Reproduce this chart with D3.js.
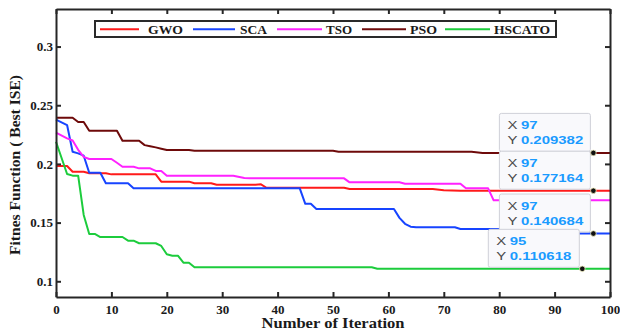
<!DOCTYPE html>
<html>
<head>
<meta charset="utf-8">
<script src="https://cdn.jsdelivr.net/npm/d3@7/dist/d3.min.js"></script>
<style>
  body { margin: 0; background: #fff; }
  svg { display: block; }
  .axis path, .axis line { stroke: #262626; stroke-width: 2; }
  .axis text { font-family: "Liberation Serif", "Times New Roman", serif; font-weight: bold; font-size: 12.5px; fill: #1a1a1a; }
</style>
</head>
<body>
<div id="chart"></div>
<script>
// series names
const names = ['GWO', 'SCA', 'TSO', 'PSO', 'HSCATO'];

// [iteration, best fitness] knots
const gwo = [[0,.1982],[2,.1982],[3,.1933],[5,.1933],[6,.1920],[9,.1920],[10,.1911],[18,.1911],[19,.1849],[24,.1849],[25,.1835],[28,.1835],[29,.1822],[36,.1822],[37,.1826],[38,.1797],[52,.1797],[53,.1786],[68,.1786],[70,.1776],[73,.17716],[100,.17716]];
const sca = [[0,.2378],[2,.2331],[3,.2104],[4,.2090],[5,.2070],[6,.1925],[8,.1925],[9,.1835],[13,.1835],[14,.1792],[44,.1792],[45,.1660],[46,.1660],[47,.1616],[61,.1616],[62,.1540],[63,.1490],[64,.1465],[65,.1460],[72,.1460],[73,.1445],[80,.1445],[82,.140684],[100,.140684]];
const tso = [[0,.2266],[2,.2218],[3,.2200],[4,.2120],[5,.2060],[6,.2042],[10,.2042],[11,.2010],[12,.1976],[14,.1976],[15,.1962],[17,.1962],[18,.1940],[19,.1940],[20,.1900],[32,.1900],[34,.1880],[35,.1877],[52,.1877],[53,.1843],[62,.1843],[63,.1831],[73,.1831],[74,.1792],[78,.1792],[79,.1690],[100,.1690]];
const pso = [[0,.2393],[3,.2393],[4,.2357],[5,.2357],[6,.2283],[11,.2283],[12,.2198],[15,.2198],[16,.2160],[17,.2150],[18,.2141],[19,.2130],[20,.2118],[24,.2118],[25,.2112],[50,.2112],[51,.2104],[75,.2104],[77,.209382],[100,.209382]];
const hscato = [[0,.2189],[2,.1914],[3,.1900],[4,.1900],[5,.1565],[6,.1403],[7,.1403],[8,.1377],[12,.1377],[13,.1346],[14,.1346],[15,.1324],[18,.1324],[19,.1301],[20,.1230],[21,.1218],[22,.1218],[23,.1158],[24,.1158],[25,.1119],[57,.1119],[58,.110618],[100,.110618]];
const seriesValues = [gwo, sca, tso, pso, hscato];

// axis ticks
const xTicks = [0, 10, 20, 30, 40, 50, 60, 70, 80, 90, 100];
const yTicks = [0.1, 0.15, 0.2, 0.25, 0.3];

// data tips shown on the plot
const tipX = [97, 97, 97, 95];
const tipY = [0.209382, 0.177164, 0.140684, 0.110618];

const colors = ['#ff1a1a', '#1744ff', '#ff22ff', '#6e0a0a', '#1ccc3c'];

const W = 620, H = 332;
const svg = d3.select('#chart').append('svg').attr('width', W).attr('height', H);

const x = d3.scaleLinear().domain([0, 100]).range([56, 610]);
const y = d3.scaleLinear().domain([0.0866, 0.332]).range([297, 9]);

// lines
const line = d3.line().x(d => x(d[0])).y(d => y(d[1]));
svg.append('g').selectAll('path')
  .data(seriesValues)
  .join('path')
  .attr('d', line)
  .attr('fill', 'none')
  .attr('stroke', (d, i) => colors[i])
  .attr('stroke-width', 2)
  .attr('stroke-linejoin', 'round');

// box axes, ticks pointing inward
svg.append('g').attr('class', 'axis')
  .attr('transform', `translate(0,${y.range()[0]})`)
  .call(d3.axisBottom(x).tickValues(xTicks).tickSizeInner(-5).tickSizeOuter(0).tickPadding(8));
svg.append('g').attr('class', 'axis')
  .attr('transform', `translate(${x.range()[0]},0)`)
  .call(d3.axisLeft(y).tickValues(yTicks).tickFormat(d3.format('~g')).tickSizeInner(-5).tickSizeOuter(0).tickPadding(3));
svg.append('g').attr('class', 'axis')
  .attr('transform', `translate(0,${y.range()[1]})`)
  .call(d3.axisTop(x).tickValues(xTicks).tickFormat('').tickSizeInner(-5).tickSizeOuter(0));
svg.append('g').attr('class', 'axis')
  .attr('transform', `translate(${x.range()[1]},0)`)
  .call(d3.axisRight(y).tickValues(yTicks).tickFormat('').tickSizeInner(-5).tickSizeOuter(0));
svg.selectAll('.axis .tick text').style('font-size', '13px');

// axis titles
svg.append('text')
  .attr('x', 333).attr('y', 328)
  .attr('text-anchor', 'middle')
  .attr('textLength', 143).attr('lengthAdjust', 'spacingAndGlyphs')
  .style('font-family', '"Liberation Serif", "Times New Roman", serif')
  .style('font-weight', 'bold').style('font-size', '14px').style('fill', '#1a1a1a')
  .text('Number of Iteration');
svg.append('text')
  .attr('transform', 'translate(20,165) rotate(-90)')
  .attr('text-anchor', 'middle')
  .attr('textLength', 180).attr('lengthAdjust', 'spacingAndGlyphs')
  .style('font-family', '"Liberation Serif", "Times New Roman", serif')
  .style('font-weight', 'bold').style('font-size', '14px').style('fill', '#1a1a1a')
  .text('Fitnes Function ( Best ISE)');

// legend
const legend = svg.append('g');
legend.append('rect')
  .attr('x', 95).attr('y', 21).attr('width', 461).attr('height', 16)
  .attr('fill', '#fff').attr('stroke', '#2a2a2a').attr('stroke-width', 2);
const legLine = [[100, 139], [193, 235], [277, 322], [362, 406], [445, 490]];
const legText = [[148, 35], [240, 27], [326, 26], [410, 27], [494, 56]];
names.forEach((n, i) => {
  legend.append('line')
    .attr('x1', legLine[i][0]).attr('x2', legLine[i][1])
    .attr('y1', 29.3).attr('y2', 29.3)
    .attr('stroke', colors[i]).attr('stroke-width', 2);
  legend.append('text')
    .attr('x', legText[i][0]).attr('y', 33.5)
    .attr('textLength', legText[i][1]).attr('lengthAdjust', 'spacingAndGlyphs')
    .style('font-family', '"Liberation Serif", "Times New Roman", serif')
    .style('font-weight', 'bold').style('font-size', '12px').style('fill', '#1a1a1a')
    .text(n);
});

// data tips
const tipW = 91, tipH = 38;
const tips = svg.append('g');
tipX.forEach((tx, i) => {
  const px = x(tx), py = y(tipY[i]);
  const bx = px - 3 - tipW, by = py - 1.5 - tipH;
  const g = tips.append('g').attr('transform', `translate(${bx},${by})`);
  g.append('rect')
    .attr('width', tipW).attr('height', tipH).attr('rx', 2)
    .attr('fill', '#f9f9fc').attr('stroke', '#cfd0d8').attr('stroke-width', 1);
  const rows = [['X', String(tx)], ['Y', String(tipY[i])]];
  rows.forEach((r, j) => {
    const base = 16 + j * 14.5;
    g.append('text')
      .attr('transform', `translate(8,${base}) scale(1.3,1)`)
      .style('font-family', '"Liberation Sans", Arial, sans-serif')
      .style('font-size', '11.5px').style('fill', '#4a4a4a')
      .text(r[0]);
    g.append('text')
      .attr('transform', `translate(21.5,${base}) scale(1.3,1)`)
      .style('font-family', '"Liberation Sans", Arial, sans-serif')
      .style('font-weight', 'bold').style('font-size', '11.5px').style('fill', '#1a9bff')
      .text(r[1]);
  });
});
tipX.forEach((tx, i) => {
  svg.append('circle')
    .attr('cx', x(tx)).attr('cy', y(tipY[i])).attr('r', 2.8)
    .attr('fill', '#111').attr('stroke', '#f3f0c0').attr('stroke-width', 0.8);
});
</script>
</body>
</html>
